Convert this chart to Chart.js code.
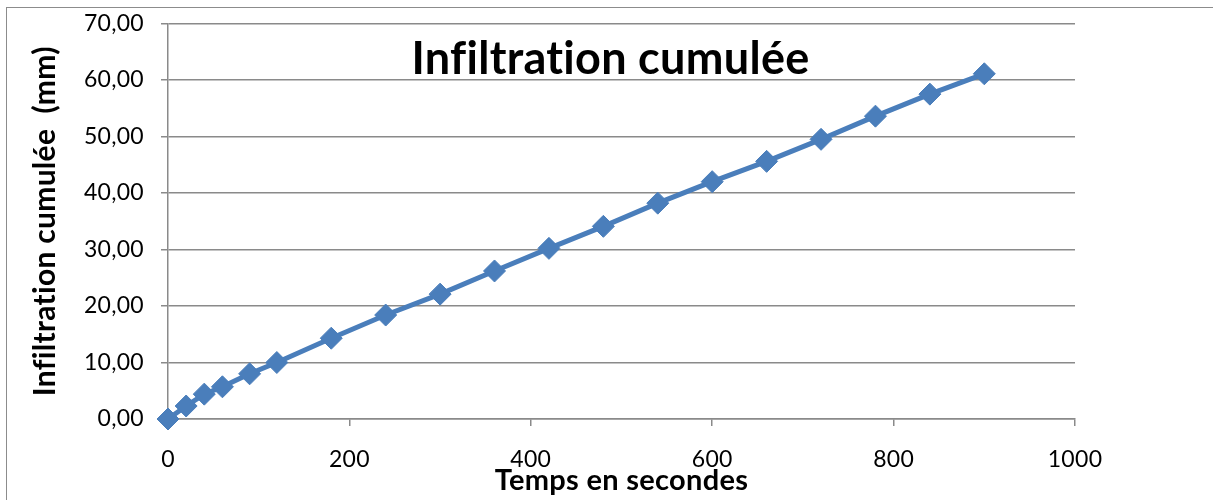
<!DOCTYPE html>
<html lang="fr">
<head>
<meta charset="utf-8">
<title>Infiltration cumulée</title>
<script src="https://cdn.jsdelivr.net/npm/chart.js@4.4.0/dist/chart.umd.min.js"></script>
<style>
  html, body { margin: 0; padding: 0; background: #ffffff; overflow: hidden; }
  #frame {
    position: absolute; left: 6px; top: 7px; width: 1400px; height: 700px;
    border-left: 1px solid #8c8c8c; border-top: 1px solid #8c8c8c;
  }
  #chart { position: absolute; left: 0; top: 0; }
</style>
</head>
<body>
<div id="frame"></div>
<canvas id="chart" width="1213" height="500"></canvas>
<script>
// Temps de mesure (s) et infiltration cumulée correspondante (mm)
const temps = [0, 20, 40, 60, 90, 120, 180, 240, 300, 360, 420, 480, 540, 600, 660, 720, 780, 840, 900];
const infiltration = [0, 2.3, 4.4, 5.7, 8.0, 10.0, 14.3, 18.4, 22.1, 26.2, 30.2, 34.1, 38.2, 42.0, 45.6, 49.5, 53.6, 57.5, 61.1];

const titreGraphique = "Infiltration cumulée";
const titreAxeX = "Temps en secondes";
const titreAxeY = "Infiltration cumulée  (mm)";

const points = temps.map((t, i) => ({ x: t, y: infiltration[i] }));

const GRIS = "#8a8a8a";
const BLEU = "#4a7ebb";
const POLICE = "Lato, 'Noto Sans', sans-serif";

// Lettres séparées (pas de ligatures « fi », « ti ») pour tous les textes
const sansLigatures = {
  id: "sansLigatures",
  beforeDraw(chart) {
    if ("letterSpacing" in chart.ctx) chart.ctx.letterSpacing = "0.3px";
  }
};

// Titre dessiné à l'intérieur de la zone de tracé
const titreInterne = {
  id: "titreInterne",
  afterDatasetsDraw(chart) {
    const { ctx, chartArea } = chart;
    ctx.save();
    ctx.font = "bold 45px " + POLICE;
    ctx.fillStyle = "#000000";
    ctx.textAlign = "center";
    ctx.textBaseline = "alphabetic";
    ctx.fillText(titreGraphique, (chartArea.left + chartArea.right) / 2 - 11, chartArea.top + 50);
    ctx.restore();
  }
};

new Chart(document.getElementById("chart"), {
  type: "line",
  data: {
    datasets: [{
      data: points,
      borderColor: BLEU,
      backgroundColor: BLEU,
      borderWidth: 5,
      pointStyle: "rectRot",
      pointRadius: 11,
      pointBorderWidth: 1,
      pointBorderColor: BLEU,
      pointBackgroundColor: BLEU,
      tension: 0,
      fill: false,
      clip: false
    }]
  },
  options: {
    responsive: false,
    animation: false,
    devicePixelRatio: 1,
    layout: { padding: { left: 0, top: 23.5, right: 138, bottom: 0 } },
    plugins: {
      legend: { display: false },
      tooltip: { enabled: false },
      title: { display: false }
    },
    scales: {
      x: {
        type: "linear",
        min: 0,
        max: 1000,
        afterFit(scale) {
          scale.height = 81;
          scale.paddingLeft = 0;
          scale.paddingRight = 0;
        },
        ticks: {
          stepSize: 200,
          padding: 20,
          color: "#000000",
          font: { family: POLICE, size: 23 },
          callback: (v) => String(v)
        },
        grid: {
          drawOnChartArea: false,
          drawTicks: true,
          tickLength: 7,
          color: GRIS,
          lineWidth: 1.5
        },
        border: { display: true, color: GRIS, width: 1.5 },
        title: {
          display: true,
          text: titreAxeX,
          color: "#000000",
          font: { family: POLICE, size: 29, weight: "bold" },
          padding: { top: 0, bottom: 2 }
        }
      },
      y: {
        min: 0,
        max: 70,
        afterFit(scale) {
          scale.width = 168;
          scale.paddingTop = 0;
          scale.paddingBottom = 0;
        },
        ticks: {
          stepSize: 10,
          padding: 17,
          color: "#000000",
          font: { family: POLICE, size: 23 },
          callback: (v) => v.toFixed(2).replace(".", ",")
        },
        grid: {
          drawTicks: true,
          tickLength: 7,
          color: GRIS,
          lineWidth: 1.5
        },
        border: { display: true, color: GRIS, width: 1.5 },
        title: {
          display: true,
          text: titreAxeY,
          color: "#000000",
          font: { family: POLICE, size: 30, weight: "bold" },
          padding: { top: 27, bottom: 0 }
        }
      }
    }
  },
  plugins: [sansLigatures, titreInterne]
});
</script>
</body>
</html>
